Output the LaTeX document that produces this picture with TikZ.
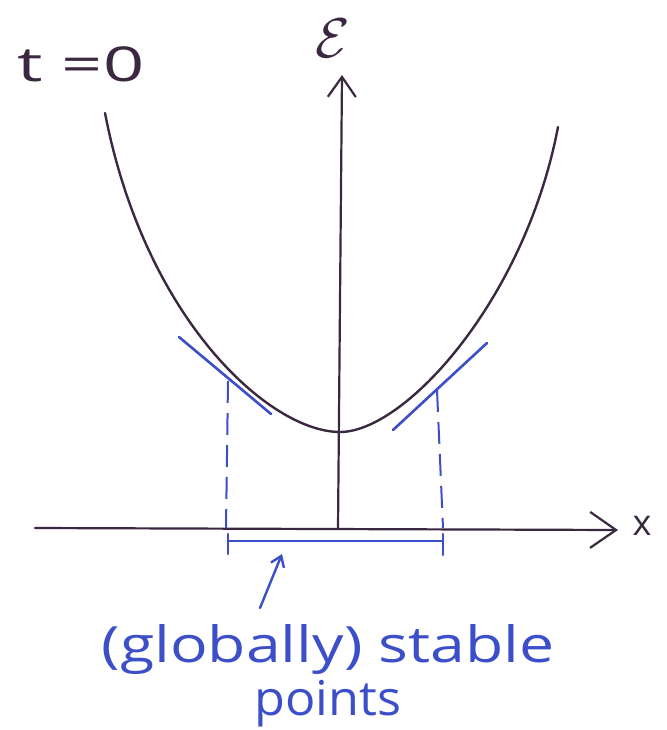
\documentclass[tikz,border=0pt]{standalone}
\usepackage{fontspec}
\setmainfont{Open Sans}
\usetikzlibrary{arrows.meta}
\definecolor{ink}{HTML}{3A2840}
\definecolor{pen}{HTML}{3D4FC8}
\tikzset{
  axisline/.style={ink, line width=2.2pt, line cap=round},
  curveline/.style={ink, line width=2.4pt, line cap=round, line join=round},
  tangentline/.style={pen, line width=2.6pt, line cap=round},
  guideline/.style={pen, line width=2pt, dash pattern=on 22pt off 10pt},
  bluelabel/.style={pen, font=\fontsize{50}{56}\selectfont, inner sep=0pt},
  inklabel/.style={ink, inner sep=0pt},
}
\begin{document}
\begin{tikzpicture}[x=1pt,y=-1pt]
\useasboundingbox (0,0) rectangle (666,730);
% axes
\coordinate (xs) at (35,528);
\coordinate (xe) at (618,530);
\coordinate (o) at (338,528);
\coordinate (ye) at (342,75);
\draw[axisline, -{Straight Barb[length=26pt,width=36pt,line width=2.2pt]}] (xs) -- (xe);
\draw[axisline, -{Straight Barb[length=20pt,width=28pt,line width=2.2pt]}] (o) -- (ye);
\node[inklabel, font=\fontsize{36}{40}\selectfont] (xl) at (642,526) {x};
\node[inklabel] (el) at (333,38) {\scalebox{5.6}{$\mathcal{E}$}};
\node[inklabel, font=\fontsize{48}{54}\selectfont] (tl) at (81,64) {\scalebox{1.5}[1]{t =0}};
% curve
\coordinate (c0) at (105,113);
\coordinate (cm) at (340,432);
\coordinate (c1) at (558,127);
\draw[curveline] (c0) .. controls (145,320) and (270,432) .. (cm)
                      .. controls (405,432) and (525,300) .. (c1);
% tangents
\coordinate (tl1) at (179,337);
\coordinate (tl2) at (271,414);
\coordinate (tr1) at (487,343);
\coordinate (tr2) at (393,430);
\draw[tangentline] (tl1) -- (tl2);
\draw[tangentline] (tr1) -- (tr2);
% dashed guides
\coordinate (dl1) at (228,381);
\coordinate (dl2) at (226,528);
\coordinate (dr1) at (437,390);
\coordinate (dr2) at (443,528);
\draw[guideline] (dl1) -- (dl2);
\draw[guideline] (dr1) -- (dr2);
% bracket
\coordinate (bl) at (228,541);
\coordinate (br) at (443,541);
\draw[tangentline] (bl) -- (br);
\draw[tangentline] (228,534) -- (228,554);
\draw[tangentline] (443,534) -- (443,555);
% labels
\node[bluelabel] (gl) at (328,650) {\scalebox{1.25}[1]{(globally) stable}};
\node[bluelabel, font=\fontsize{48}{54}\selectfont] (pl) at (328,704) {\scalebox{1.05}[1]{points}};
\coordinate (at) at (282,554);
\draw[pen, line width=2.4pt, line cap=round, -{Straight Barb[length=10pt,width=14pt,line width=2.4pt]}] (260,608) -- (at);
\end{tikzpicture}
\end{document}
